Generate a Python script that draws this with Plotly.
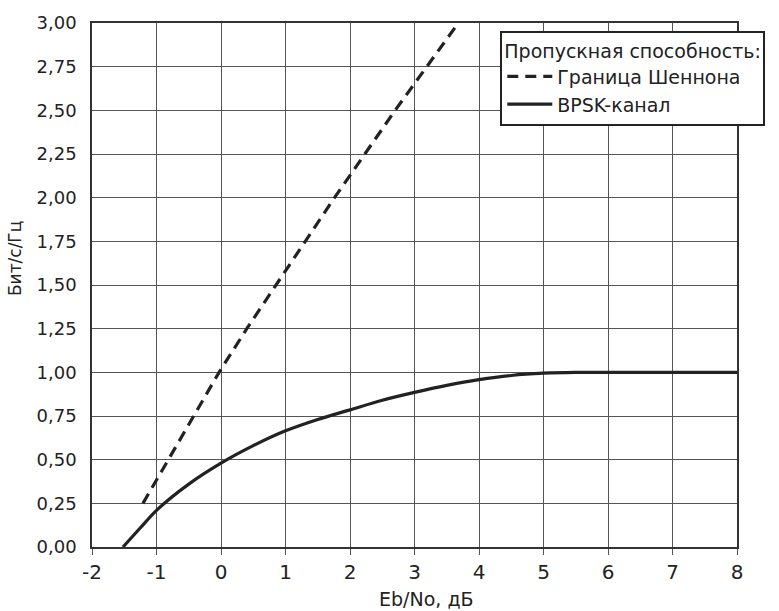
import plotly.graph_objects as go

# Shannon bound (dashed): Eb/No (dB) vs capacity (bit/s/Hz)
shannon_ebno = [-1.21, -0.82, -0.42, -0.03, 0.40, 0.85, 1.30, 1.76, 2.23, 2.70, 3.19, 3.68]
shannon_cap = [0.25, 0.50, 0.75, 1.00, 1.25, 1.50, 1.75, 2.00, 2.25, 2.50, 2.75, 3.00]

# BPSK channel capacity (solid)
bpsk_ebno = [-1.52, -1.25, -1.0, -0.5, 0.0, 0.5, 1.0, 1.5, 2.0, 2.5, 3.0, 3.5, 4.0, 4.5, 5.0, 5.5, 6.0, 7.0, 8.0]
bpsk_cap = [0.0, 0.11, 0.21, 0.36, 0.48, 0.58, 0.665, 0.73, 0.785, 0.84, 0.885, 0.925, 0.958, 0.982, 0.995, 1.0, 1.0, 1.0, 1.0]

x_ticks = [-2, -1, 0, 1, 2, 3, 4, 5, 6, 7, 8]
y_ticks = [0.0, 0.25, 0.5, 0.75, 1.0, 1.25, 1.5, 1.75, 2.0, 2.25, 2.5, 2.75, 3.0]
y_ticktext = ["0,00", "0,25", "0,50", "0,75", "1,00", "1,25", "1,50", "1,75",
              "2,00", "2,25", "2,50", "2,75", "3,00"]

legend_title = "Пропускная способность:"
name_shannon = "Граница Шеннона"
name_bpsk = "BPSK-канал"

ink = "#222222"
font_family = "DejaVu Sans, Liberation Sans, Arial, sans-serif"

fig = go.Figure()
fig.add_trace(go.Scatter(
    x=shannon_ebno, y=shannon_cap, mode="lines", name=name_shannon,
    line=dict(color=ink, width=3.2, dash="11px,7px"),
))
fig.add_trace(go.Scatter(
    x=bpsk_ebno, y=bpsk_cap, mode="lines", name=name_bpsk,
    line=dict(color=ink, width=3.2, shape="spline", smoothing=0.8),
))

fig.update_layout(
    width=779, height=611,
    margin=dict(l=92, r=42, t=14, b=64),
    paper_bgcolor="white", plot_bgcolor="white",
    font=dict(family=font_family, color=ink),
    showlegend=True,
    legend=dict(
        title=dict(text=legend_title, font=dict(size=19, color=ink)),
        font=dict(size=19, color=ink),
        x=0.633, y=0.985, xanchor="left", yanchor="top",
        bgcolor="white", bordercolor=ink, borderwidth=2,
        tracegroupgap=0, itemwidth=45,
    ),
    xaxis=dict(
        range=[-2, 8], tickvals=x_ticks, ticktext=[str(v) for v in x_ticks],
        showgrid=True, gridcolor="#555555", gridwidth=1.3,
        showline=True, linecolor="#333333", linewidth=1.5, mirror=True,
        ticks="outside", ticklen=6, tickcolor="#555555", tickwidth=1.3,
        tickfont=dict(size=20, color=ink), zeroline=False,
    ),
    yaxis=dict(
        range=[0, 3], tickvals=y_ticks, ticktext=y_ticktext,
        showgrid=True, gridcolor="#555555", gridwidth=1.3,
        showline=True, linecolor="#333333", linewidth=1.5, mirror=True,
        ticks="", ticklabelstandoff=10,
        tickfont=dict(size=18, color=ink), zeroline=False,
    ),
    annotations=[
        dict(text="Бит/с/Гц", xref="paper", yref="paper", x=-0.119, y=0.55,
             textangle=-90, showarrow=False, font=dict(size=17, color=ink),
             xanchor="center", yanchor="middle"),
        dict(text="Eb/No, дБ", xref="paper", yref="paper", x=0.518, y=-0.099,
             showarrow=False, font=dict(size=19, color=ink),
             xanchor="center", yanchor="middle"),
    ],
)

fig.write_html("out.html")
